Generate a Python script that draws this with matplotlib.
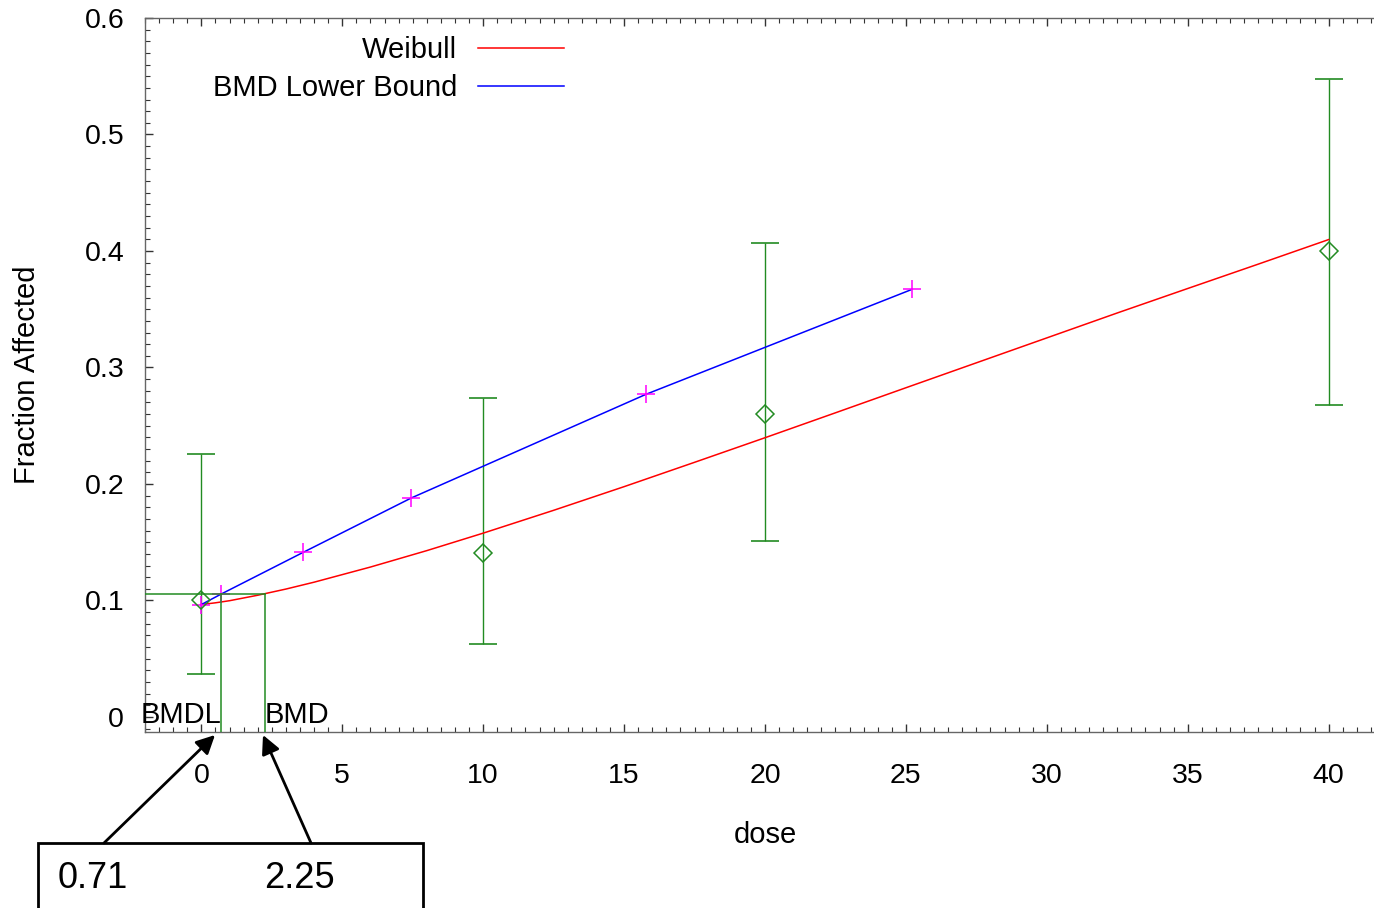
import matplotlib
matplotlib.use("Agg")
import matplotlib.pyplot as plt
from matplotlib.patches import FancyArrowPatch, Rectangle
from matplotlib.ticker import MultipleLocator

plt.rcParams['font.family'] = ['Liberation Sans', 'DejaVu Sans']

# Observed data
dose = [0, 10, 20, 40]
frac = [0.100, 0.141, 0.260, 0.400]
ci_low = [0.037, 0.063, 0.151, 0.268]
ci_high = [0.226, 0.274, 0.407, 0.548]

# Weibull fitted curve
w_dose = [0, 0.5, 1, 2, 3, 4, 6, 8, 10, 12.5, 15, 17.5, 20, 22.5, 25, 27.5, 30, 32.5, 35, 37.5, 40]
w_frac = [0.0965, 0.0980, 0.0998, 0.1045, 0.1098, 0.1157, 0.1287, 0.1428, 0.1578, 0.1774, 0.1977,
          0.2186, 0.2397, 0.2611, 0.2826, 0.3040, 0.3254, 0.3468, 0.3678, 0.3887, 0.4098]

# BMD lower-bound line points
lb_dose = [0, 0.71, 3.62, 7.45, 15.78, 25.21]
lb_frac = [0.0965, 0.1056, 0.1414, 0.188, 0.277, 0.367]

bmd = 2.25
bmdl = 0.71
bmr_level = 0.1056

green = '#228b22'

fig = plt.figure(figsize=(13.74, 9.08), dpi=100)
W, H = 1374, 908
ax = fig.add_axes([145 / W, 1 - 732 / H, (1385 - 145) / W, (732 - 18) / H])
ax.set_xlim(-2, 42)
ax.set_ylim(-0.0129, 0.6)

ax.plot(w_dose, w_frac, color='#ff0000', lw=1.1, label='Weibull', zorder=3)
ax.plot(lb_dose, lb_frac, color='#0000ff', lw=1.1, label='BMD Lower Bound', zorder=3)
ax.plot(lb_dose, lb_frac, ls='none', marker='+', ms=13, mew=1.1, color='#ff00ff', zorder=4)

yerr = [[f - l for f, l in zip(frac, ci_low)], [h - f for f, h in zip(frac, ci_high)]]
ax.errorbar(dose, frac, yerr=yerr, fmt='none', ecolor=green, elinewidth=1.0, capsize=10,
            capthick=1.2, zorder=2)
ax.plot(dose, frac, ls='none', marker='D', ms=9, mfc='none', mec=green, mew=1.1, zorder=5)

# BMD / BMDL indicator lines
ax.plot([-2, bmd], [bmr_level, bmr_level], color=green, lw=1.1, zorder=6)
ax.plot([bmd, bmd], [-0.0129, bmr_level], color=green, lw=1.1, zorder=6)
ax.plot([bmdl, bmdl], [-0.0129, bmr_level], color=green, lw=1.1, zorder=6)
ax.text(bmdl, -0.005, 'BMDL', ha='right', va='baseline', fontsize=21)
ax.text(bmd, -0.005, 'BMD', ha='left', va='baseline', fontsize=21)

# Axes style
ax.xaxis.set_major_locator(MultipleLocator(5))
ax.xaxis.set_minor_locator(MultipleLocator(0.5))
ax.yaxis.set_major_locator(MultipleLocator(0.1))
ax.yaxis.set_minor_locator(MultipleLocator(0.01))
ax.set_xticks([0, 5, 10, 15, 20, 25, 30, 35, 40])
ax.set_yticks([0, 0.1, 0.2, 0.3, 0.4, 0.5, 0.6])
ax.set_yticklabels(['0', '0.1', '0.2', '0.3', '0.4', '0.5', '0.6'])
ax.tick_params(axis='both', which='both', direction='in', top=True, right=False, color='#333333')
ax.tick_params(axis='both', which='major', length=6, width=1)
ax.tick_params(axis='both', which='minor', length=3.5, width=0.8)
ax.tick_params(axis='x', which='major', labelsize=20.5, pad=22)
ax.tick_params(axis='y', which='major', labelsize=20.5, pad=15)
for s in ['left', 'bottom', 'top']:
    ax.spines[s].set_color('#666666')
    ax.spines[s].set_linewidth(1)
ax.spines['right'].set_visible(False)

ax.set_xlabel('dose', fontsize=21)
ax.set_ylabel('Fraction Affected', fontsize=21)
ax.xaxis.set_label_coords(0.5, (732 - 821) / 714)
ax.yaxis.set_label_coords((41 - 145) / 1240, 0.5)

leg = ax.legend(loc='upper right', bbox_to_anchor=(564 / W, 1 - 36 / H), bbox_transform=fig.transFigure,
                frameon=False, markerfirst=False, fontsize=21, handlelength=2.95, handletextpad=0.72,
                borderpad=0, borderaxespad=0, labelspacing=0.36)

# Annotation box and arrows (figure pixel coordinates)
def fp(x, y):
    return (x / W, 1 - y / H)

box = Rectangle(fp(38, 920), (423 - 38) / W, (920 - 843) / H, transform=fig.transFigure,
                fill=False, ec='black', lw=2, clip_on=False)
fig.add_artist(box)
for (x0, y0), (x1, y1) in [((104, 843), (215, 735)), ((311, 843), (263, 735))]:
    arr = FancyArrowPatch(fp(x0, y0), fp(x1, y1), transform=fig.transFigure, arrowstyle='-|>',
                          mutation_scale=28, lw=2, color='black', shrinkA=0, shrinkB=0)
    fig.add_artist(arr)
fig.text(*fp(58, 878), '0.71', ha='left', va='center', fontsize=26)
fig.text(*fp(264, 878), '2.25', ha='left', va='center', fontsize=26)

fig.savefig('out.png', dpi=100)
